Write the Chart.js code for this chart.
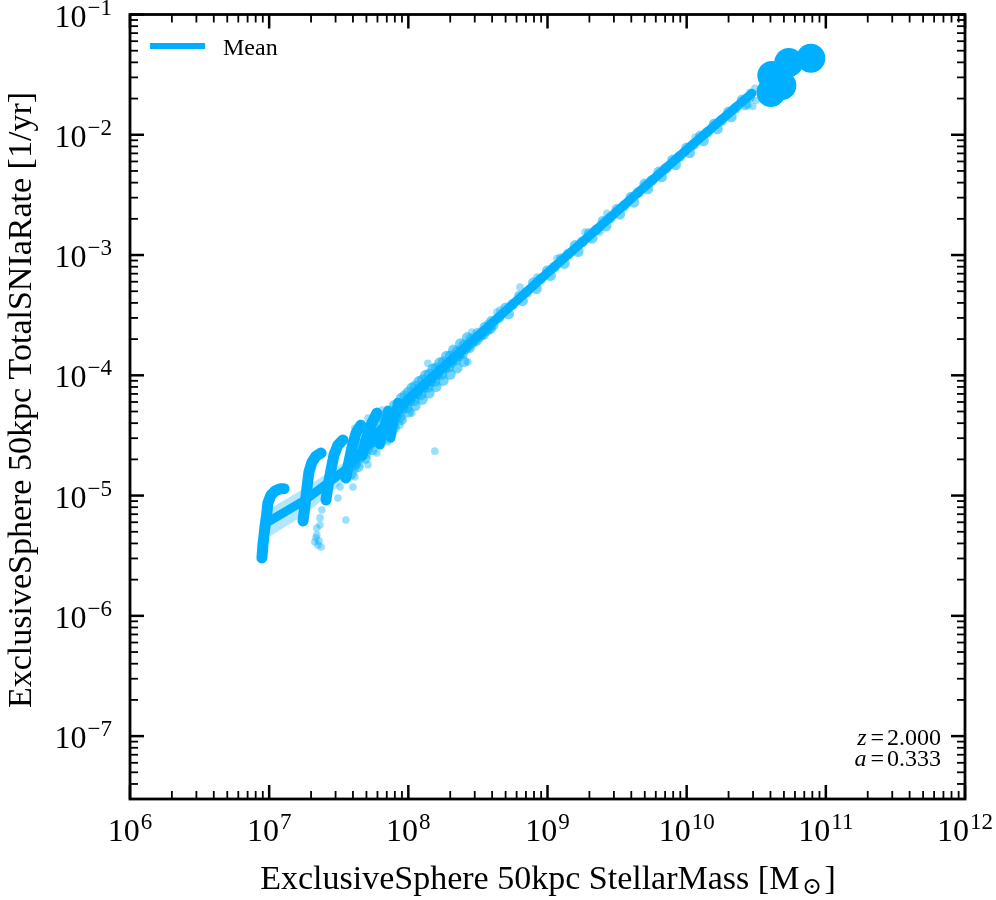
<!DOCTYPE html>
<html>
<head>
<meta charset="utf-8">
<script src="https://cdn.jsdelivr.net/npm/chart.js@4.4.0/dist/chart.umd.min.js"></script>
<style>
  body { margin: 0; background: #fff; }
  canvas { display: block; }
</style>
</head>
<body>
<canvas id="sniaChart" width="996" height="900"></canvas>
<script>
// Axis decades and their tick labels (exponents)
var xTicks = [1e6, 1e7, 1e8, 1e9, 1e10, 1e11, 1e12];
var xTickExp = ['6', '7', '8', '9', '10', '11', '12'];
var yTicks = [1e-7, 1e-6, 1e-5, 1e-4, 1e-3, 1e-2, 1e-1];
var yTickExp = ['\u22127', '\u22126', '\u22125', '\u22124', '\u22123', '\u22122', '\u22121'];

// Binned mean and its spread
var meanMass = [1.01e7, 1.81e7, 3.51e7, 9.93e7, 9.91e8, 9.86e9, 2.94e10];
var meanRate = [6.15e-6, 9.18e-6, 1.63e-5, 6.34e-5, 7.06e-4, 7.41e-3, 2.21e-2];
var bandLow  = [4.56e-6, 6.97e-6, 1.33e-5, 5.52e-5, 6.30e-4, 6.61e-3, 1.97e-2];
var bandHigh = [7.74e-6, 1.16e-5, 1.92e-5, 6.95e-5, 7.57e-4, 7.94e-3, 2.37e-2];

// Dense galaxy tracks at low mass
var trackAMass = [8.87e6, 9.02e6, 9.33e6, 9.64e6, 9.79e6, 1.03e7, 1.10e7, 1.20e7, 1.28e7];
var trackARate = [3.03e-6, 3.89e-6, 5.48e-6, 7.31e-6, 8.69e-6, 1.01e-5, 1.09e-5, 1.14e-5, 1.14e-5];
var trackBMass = [1.75e7, 1.81e7, 1.87e7, 1.93e7, 2.03e7, 2.17e7, 2.36e7];
var trackBRate = [6.15e-6, 8.36e-6, 1.16e-5, 1.57e-5, 1.90e-5, 2.13e-5, 2.26e-5];
var trackCMass = [2.56e7, 2.64e7, 2.78e7, 2.92e7, 3.12e7, 3.39e7];
var trackCRate = [9.18e-6, 1.18e-5, 1.63e-5, 2.17e-5, 2.63e-5, 2.90e-5];
var trackDMass = [3.56e7, 3.74e7, 3.94e7, 4.21e7, 4.56e7];
var trackDRate = [1.40e-5, 1.90e-5, 2.53e-5, 3.31e-5, 3.85e-5];
var trackEMass = [4.65e7, 4.95e7, 5.38e7, 5.94e7];
var trackERate = [2.17e-5, 2.90e-5, 3.85e-5, 4.85e-5];
var trackFMass = [6.25e7, 6.68e7, 7.13e7];
var trackFRate = [2.63e-5, 3.64e-5, 5.14e-5];
var trackGMass = [7.50e7, 7.88e7, 8.41e7];
var trackGRate = [3.01e-5, 4.25e-5, 5.98e-5];

// Main relation galaxies
var coreMass = [
  3.98e7, 4.17e7, 3.89e7, 4.47e7, 4.57e7, 4.37e7, 5.01e7, 5.13e7, 4.90e7,
  5.62e7, 5.75e7, 5.50e7, 6.31e7, 6.46e7, 6.17e7, 7.08e7, 7.24e7, 6.92e7,
  7.94e7, 8.13e7, 7.76e7, 8.91e7, 9.12e7, 8.71e7, 1.00e8, 1.02e8, 9.77e7,
  1.12e8, 1.15e8, 1.10e8, 1.26e8, 1.29e8, 1.23e8, 1.41e8, 1.45e8, 1.38e8,
  1.58e8, 1.62e8, 1.55e8, 1.78e8, 1.82e8, 1.74e8, 2.00e8, 2.04e8, 1.95e8,
  2.24e8, 2.29e8, 2.19e8, 2.51e8, 2.57e8, 2.45e8, 2.82e8, 2.88e8, 2.75e8,
  3.16e8, 3.24e8, 3.09e8, 3.55e8, 3.63e8, 3.47e8, 3.98e8, 4.07e8, 3.89e8,
  4.22e7, 4.73e7, 5.31e7, 5.96e7, 6.68e7, 7.50e7, 8.41e7, 9.44e7, 1.06e8, 1.19e8,
  1.33e8, 1.50e8, 1.68e8, 1.88e8, 2.11e8, 2.37e8, 2.66e8, 2.99e8, 3.35e8, 3.76e8,
  6.68e7, 7.50e7, 8.41e7, 9.44e7, 1.06e8, 1.19e8, 1.33e8, 1.50e8, 1.68e8, 1.88e8,
  2.11e8, 2.37e8, 2.66e8,
  6.31e7, 7.08e7, 7.94e7, 8.91e7, 1.00e8, 1.12e8, 1.26e8, 1.41e8, 1.58e8, 1.78e8,
  2.00e8, 2.24e8, 2.51e8,
  5.01e8, 5.25e8, 6.31e8, 6.61e8, 7.94e8, 8.32e8, 1.00e9, 1.05e9, 1.26e9, 1.32e9,
  1.58e9, 1.66e9, 2.00e9, 2.09e9, 2.51e9, 2.63e9, 3.16e9, 3.31e9, 3.98e9, 4.17e9,
  5.01e9, 5.25e9, 6.31e9, 6.61e9, 7.94e9, 8.32e9, 1.00e10, 1.05e10, 1.26e10, 1.32e10,
  1.58e10, 1.66e10, 2.00e10, 2.09e10, 2.51e10, 2.63e10,
  4.47e8, 5.62e8, 7.08e8, 8.91e8, 1.12e9, 1.41e9, 1.78e9, 2.24e9, 2.82e9, 3.55e9,
  4.47e9, 5.62e9, 7.08e9, 8.91e9, 1.12e10, 1.41e10, 1.78e10, 2.24e10, 2.82e10
];
var coreRate = [
  2.29e-5, 1.82e-5, 1.51e-5, 2.69e-5, 2.09e-5, 1.74e-5, 3.02e-5, 2.45e-5, 2.04e-5,
  3.63e-5, 2.82e-5, 2.40e-5, 4.17e-5, 3.39e-5, 2.75e-5, 4.90e-5, 3.89e-5, 3.24e-5,
  5.62e-5, 4.47e-5, 3.80e-5, 6.46e-5, 5.25e-5, 4.47e-5, 7.24e-5, 6.17e-5, 5.37e-5,
  8.13e-5, 7.08e-5, 6.17e-5, 9.12e-5, 7.94e-5, 6.92e-5, 1.02e-4, 8.91e-5, 7.94e-5,
  1.15e-4, 1.02e-4, 8.91e-5, 1.29e-4, 1.15e-4, 1.02e-4, 1.45e-4, 1.29e-4, 1.17e-4,
  1.58e-4, 1.45e-4, 1.35e-4, 1.78e-4, 1.66e-4, 1.51e-4, 2.00e-4, 1.86e-4, 1.70e-4,
  2.24e-4, 2.09e-4, 1.95e-4, 2.51e-4, 2.34e-4, 2.19e-4, 2.82e-4, 2.63e-4, 2.45e-4,
  2.04e-5, 2.40e-5, 2.69e-5, 3.16e-5, 3.63e-5, 4.27e-5, 4.90e-5, 5.75e-5, 6.61e-5, 7.59e-5,
  8.51e-5, 9.55e-5, 1.10e-4, 1.23e-4, 1.38e-4, 1.55e-4, 1.74e-4, 1.95e-4, 2.19e-4, 2.45e-4,
  4.32e-5, 5.01e-5, 5.83e-5, 6.78e-5, 7.85e-5, 8.87e-5, 1.00e-4, 1.13e-4, 1.27e-4, 1.44e-4,
  1.62e-4, 1.83e-4, 2.06e-4,
  2.72e-5, 3.16e-5, 3.68e-5, 4.28e-5, 4.95e-5, 5.60e-5, 6.31e-5, 7.11e-5, 8.04e-5, 9.06e-5,
  1.02e-4, 1.15e-4, 1.30e-4,
  3.63e-4, 3.24e-4, 4.57e-4, 4.17e-4, 5.89e-4, 5.25e-4, 7.41e-4, 6.76e-4, 9.33e-4, 8.51e-4,
  1.20e-3, 1.07e-3, 1.51e-3, 1.38e-3, 1.91e-3, 1.74e-3, 2.40e-3, 2.19e-3, 3.02e-3, 2.75e-3,
  3.89e-3, 3.55e-3, 4.90e-3, 4.47e-3, 6.17e-3, 5.62e-3, 7.76e-3, 7.08e-3, 9.77e-3, 8.91e-3,
  1.23e-2, 1.12e-2, 1.55e-2, 1.41e-2, 1.95e-2, 1.78e-2,
  3.02e-4, 3.89e-4, 4.90e-4, 6.31e-4, 7.94e-4, 1.02e-3, 1.29e-3, 1.62e-3, 2.04e-3, 2.57e-3,
  3.31e-3, 4.17e-3, 5.25e-3, 6.61e-3, 8.32e-3, 1.05e-2, 1.32e-2, 1.66e-2, 2.04e-2
];

// Scattered galaxies off the relation
var looseMass = [
  2.20e7, 2.20e7, 2.13e7, 2.24e7, 2.36e7, 2.32e7, 2.39e7, 2.32e7, 2.17e7, 2.28e7,
  2.60e7, 3.12e7, 3.23e7, 3.56e7, 3.51e7, 4.00e7, 4.13e7, 4.13e7, 4.27e7, 4.65e7,
  5.05e7, 5.13e7, 5.94e7, 5.30e7, 5.75e7, 6.05e7, 7.02e7, 7.13e7, 7.62e7, 7.75e7,
  7.13e7, 8.71e7, 1.06e8, 1.55e8, 1.38e8, 2.68e8, 2.86e8, 3.16e8, 4.33e8, 3.27e8,
  3.73e8, 4.55e8, 6.34e8, 8.40e8, 1.17e9, 1.86e9, 2.38e9, 2.67e9, 1.15e10, 3.09e10,
  3.14e10, 2.99e10, 2.75e10, 2.85e10, 4.13e7, 5.13e7, 6.46e7
];
var looseRate = [
  5.38e-6, 4.71e-6, 4.12e-6, 3.89e-6, 3.74e-6, 5.70e-6, 7.59e-6, 6.52e-6, 4.45e-6, 4.20e-6,
  9.18e-6, 9.55e-6, 1.18e-5, 6.27e-6, 1.48e-5, 1.18e-5, 1.43e-5, 1.63e-5, 1.80e-5, 2.26e-5,
  2.17e-5, 1.80e-5, 2.26e-5, 2.63e-5, 2.90e-5, 3.51e-5, 3.37e-5, 2.90e-5, 4.01e-5, 3.31e-5,
  2.79e-5, 3.85e-5, 4.85e-5, 2.34e-5, 1.26e-4, 1.29e-4, 2.29e-4, 2.16e-4, 3.35e-4, 2.24e-4,
  2.71e-4, 3.48e-4, 5.41e-4, 6.55e-4, 9.40e-4, 1.55e-3, 1.55e-3, 2.22e-3, 9.51e-3, 2.43e-2,
  1.93e-2, 1.72e-2, 1.75e-2, 2.25e-2, 3.64e-5, 4.41e-5, 5.14e-5
];

// Most massive galaxies, drawn individually
var bigMass = [7.80e10, 5.42e10, 4.09e10, 4.83e10, 4.03e10, 4.38e10];
var bigRate = [4.32e-2, 3.99e-2, 3.11e-2, 2.57e-2, 2.25e-2, 2.83e-2];

var blue = 'rgb(0,175,255)';
var serif = '"Liberation Serif", "DejaVu Serif", serif';

function pts(xs, ys) {
  return xs.map(function (v, i) { return { x: v, y: ys[i] }; });
}

function track(xs, ys, w) {
  return {
    data: pts(xs, ys),
    showLine: true,
    borderColor: blue,
    borderWidth: w || 11,
    borderCapStyle: 'round',
    borderJoinStyle: 'round',
    pointRadius: 0,
    order: 3
  };
}

function drawPow(ctx, exp, px, base, align) {
  ctx.font = '32px ' + serif;
  var wb = ctx.measureText('10').width;
  ctx.font = '23px ' + serif;
  var ws = ctx.measureText(exp).width;
  var left = align === 'right' ? px - wb - ws - 1 : px - (wb + ws + 1) / 2;
  ctx.textAlign = 'left';
  ctx.font = '32px ' + serif;
  ctx.fillText('10', left, base);
  ctx.font = '23px ' + serif;
  ctx.fillText(exp, left + wb + 1, base - 12);
}

var framePlugin = {
  id: 'frameTicks',
  afterDraw: function (chart) {
    var ctx = chart.ctx, a = chart.chartArea;
    var xs = chart.scales.x, ys = chart.scales.y;
    ctx.save();
    ctx.strokeStyle = '#000';
    ctx.fillStyle = '#000';
    ctx.lineCap = 'butt';

    function seg(x1, y1, x2, y2) {
      ctx.beginPath(); ctx.moveTo(x1, y1); ctx.lineTo(x2, y2); ctx.stroke();
    }

    // minor ticks
    ctx.lineWidth = 1.8;
    xTicks.forEach(function (d) {
      for (var k = 2; k < 10; k++) {
        var v = d * k;
        if (v > xs.max) continue;
        var p = xs.getPixelForValue(v);
        seg(p, a.bottom, p, a.bottom - 8);
        seg(p, a.top, p, a.top + 8);
      }
    });
    [1e-8].concat(yTicks).forEach(function (d) {
      for (var k = 2; k < 10; k++) {
        var v = d * k;
        if (v < ys.min || v > ys.max) continue;
        var p = ys.getPixelForValue(v);
        seg(a.left, p, a.left + 8, p);
        seg(a.right, p, a.right - 8, p);
      }
    });

    // major ticks
    ctx.lineWidth = 2.5;
    xTicks.forEach(function (v) {
      var p = xs.getPixelForValue(v);
      seg(p, a.bottom, p, a.bottom - 14);
      seg(p, a.top, p, a.top + 14);
    });
    yTicks.forEach(function (v) {
      var p = ys.getPixelForValue(v);
      seg(a.left, p, a.left + 14, p);
      seg(a.right, p, a.right - 14, p);
    });

    // frame
    ctx.lineWidth = 2.8;
    ctx.strokeRect(a.left, a.top, a.right - a.left, a.bottom - a.top);

    // tick labels
    ctx.textBaseline = 'alphabetic';
    xTicks.forEach(function (v, i) {
      drawPow(ctx, xTickExp[i], xs.getPixelForValue(v), 841, 'center');
    });
    yTicks.forEach(function (v, i) {
      drawPow(ctx, yTickExp[i], a.left - 18, ys.getPixelForValue(v) + 12, 'right');
    });

    // x axis title with subscript sun symbol
    var t1 = 'ExclusiveSphere 50kpc StellarMass [M', t2 = '\u2299', t3 = ']';
    ctx.font = '34px ' + serif;
    var w1 = ctx.measureText(t1).width, w3 = ctx.measureText(t3).width;
    ctx.font = '24px ' + serif;
    var w2 = ctx.measureText(t2).width;
    var start = 548 - (w1 + w2 + w3 + 5) / 2;
    ctx.font = '34px ' + serif;
    ctx.fillText(t1, start, 889);
    ctx.font = '24px ' + serif;
    ctx.fillText(t2, start + w1 + 3, 894);
    ctx.font = '34px ' + serif;
    ctx.fillText(t3, start + w1 + w2 + 5, 889);

    // y axis title
    ctx.save();
    ctx.translate(31, 400);
    ctx.rotate(-Math.PI / 2);
    ctx.textAlign = 'center';
    ctx.font = '34px ' + serif;
    ctx.fillText('ExclusiveSphere 50kpc TotalSNIaRate [1/yr]', 0, 0);
    ctx.restore();

    // legend
    ctx.strokeStyle = blue;
    ctx.lineWidth = 6;
    seg(a.left + 20, 46, a.left + 75, 46);
    ctx.fillStyle = '#000';
    ctx.font = '24px ' + serif;
    ctx.textAlign = 'left';
    ctx.fillText('Mean', a.left + 93, 55);

    // redshift / scale factor
    function mathLine(sym, val, base) {
      ctx.font = '24px ' + serif;
      var wv = ctx.measureText(val).width;
      var we = ctx.measureText('=').width;
      ctx.font = 'italic 24px ' + serif;
      var wsym = ctx.measureText(sym).width;
      var right = 941;
      ctx.font = '24px ' + serif;
      ctx.fillText(val, right - wv, base);
      ctx.fillText('=', right - wv - we - 3, base);
      ctx.font = 'italic 24px ' + serif;
      ctx.fillText(sym, right - wv - we - wsym - 7, base);
    }
    mathLine('z', '2.000', 745);
    mathLine('a', '0.333', 766);

    ctx.restore();
  }
};

var ctx = document.getElementById('sniaChart');

var sniaChart = new Chart(ctx, {
  type: 'scatter',
  data: {
    datasets: [
      {
        data: pts(coreMass, coreRate),
        backgroundColor: 'rgba(0,175,255,0.55)',
        borderWidth: 0,
        pointRadius: 5.5,
        order: 6
      },
      {
        data: pts(looseMass, looseRate),
        backgroundColor: 'rgba(0,175,255,0.4)',
        borderWidth: 0,
        pointRadius: 3.8,
        order: 7
      },
      {
        data: pts(meanMass, bandLow),
        showLine: true,
        borderWidth: 0,
        pointRadius: 0,
        fill: false,
        order: 5
      },
      {
        data: pts(meanMass, bandHigh),
        showLine: true,
        borderWidth: 0,
        pointRadius: 0,
        fill: '-1',
        backgroundColor: 'rgba(0,175,255,0.3)',
        order: 5
      },
      track(trackAMass, trackARate),
      track(trackBMass, trackBRate),
      track(trackCMass, trackCRate),
      track(trackDMass, trackDRate),
      track(trackEMass, trackERate),
      track(trackFMass, trackFRate, 9),
      track(trackGMass, trackGRate, 9),
      {
        label: 'Mean',
        data: pts(meanMass, meanRate),
        showLine: true,
        borderColor: blue,
        borderWidth: 9,
        borderCapStyle: 'round',
        pointRadius: 0,
        order: 2
      },
      {
        data: pts(bigMass, bigRate),
        backgroundColor: blue,
        borderWidth: 0,
        pointRadius: 14.5,
        order: 1
      }
    ]
  },
  options: {
    responsive: false,
    animation: false,
    layout: { padding: { left: 130, top: 14, right: 31, bottom: 101 } },
    plugins: {
      legend: { display: false },
      tooltip: { enabled: false }
    },
    scales: {
      x: { type: 'logarithmic', min: 1e6, max: 1e12, display: false },
      y: { type: 'logarithmic', min: 3e-8, max: 1e-1, display: false }
    }
  },
  plugins: [framePlugin]
});
</script>
</body>
</html>
